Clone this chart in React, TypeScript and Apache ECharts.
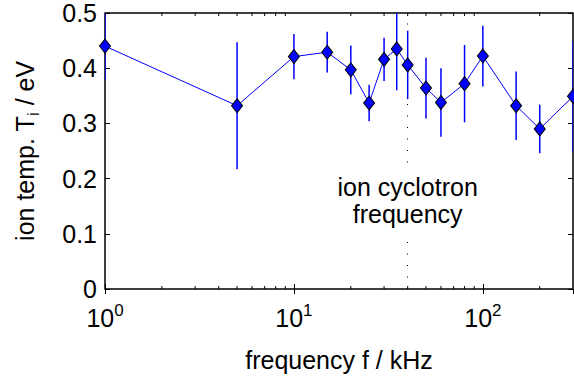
import React, { useEffect, useRef } from "react";
import * as echarts from "echarts";

const freq = [1, 5, 10, 15, 20, 25, 30, 35, 40, 50, 60, 80, 100, 150, 200, 300];
const temp = [0.44, 0.332, 0.421, 0.429, 0.397, 0.337, 0.416, 0.435, 0.406, 0.364, 0.338, 0.372, 0.422, 0.332, 0.29, 0.349];
const err = [0.062, 0.115, 0.041, 0.037, 0.044, 0.033, 0.039, 0.075, 0.062, 0.055, 0.062, 0.07, 0.055, 0.062, 0.044, 0.1];
const minorTickValues = [2, 3, 4, 5, 6, 7, 8, 9, 20, 30, 40, 50, 60, 70, 80, 90, 200];
const yTicks = ["0", "0.1", "0.2", "0.3", "0.4", "0.5"];
const cyclotronFreq = 40;
const annotationY = 0.16;
const annotationText = "ion cyclotron\nfrequency";

const FONT = "Liberation Sans, Arial, Helvetica, sans-serif";
const BLUE = "#0000ff";

export default function App() {
  const ref = useRef<HTMLDivElement>(null);
  useEffect(() => {
    if (!ref.current) return;
    const chart = echarts.init(ref.current, undefined, { renderer: "svg" });
    const lineData = freq.map((f, i) => [f, temp[i]]);
    const errData = freq.map((f, i) => [f, temp[i] - err[i], temp[i] + err[i]]);
    const minorData = minorTickValues.map((v) => [v, 0]);

    const xLabelFmt = (v: number) => {
      const e = Math.log10(v);
      if (Math.abs(e - Math.round(e)) > 1e-6) return "";
      return "{b|10}{s|" + Math.round(e) + "}";
    };

    const option: any = {
      animation: false,
      grid: {
        left: 101,
        right: 1,
        top: 13,
        bottom: 92,
        show: true,
        borderColor: "#000",
        borderWidth: 1.5,
        backgroundColor: "transparent",
      },
      xAxis: [
        {
          type: "log",
          logBase: 10,
          min: 1,
          max: 300,
          position: "bottom",
          axisLine: { show: false },
          splitLine: { show: false },
          axisTick: { show: true, inside: true, length: 5, lineStyle: { color: "#000", width: 1 } },
          axisLabel: {
            margin: 13,
            formatter: xLabelFmt,
            showMaxLabel: false,
            color: "#000",
            fontFamily: FONT,
            fontSize: 25,
            rich: {
              b: { fontSize: 25, fontFamily: FONT, color: "#000", lineHeight: 32 },
              s: { fontSize: 17, fontFamily: FONT, color: "#000", lineHeight: 16, verticalAlign: "top" },
            },
          },
          name: "frequency f / kHz",
          nameLocation: "middle",
          nameGap: 58,
          nameTextStyle: { fontSize: 25, fontFamily: FONT, color: "#000" },
        },
        {
          type: "log",
          logBase: 10,
          min: 1,
          max: 300,
          position: "top",
          axisLine: { show: false },
          splitLine: { show: false },
          axisTick: { show: true, inside: true, length: 5, lineStyle: { color: "#000", width: 1 } },
          axisLabel: { show: false },
        },
      ],
      yAxis: [
        {
          type: "value",
          min: 0,
          max: 0.5,
          interval: 0.1,
          position: "left",
          axisLine: { show: false },
          splitLine: { show: false },
          axisTick: { show: true, inside: true, length: 5, lineStyle: { color: "#000", width: 1 } },
          axisLabel: {
            margin: 8,
            color: "#000",
            fontFamily: FONT,
            fontSize: 25,
            formatter: (v: number) => yTicks[Math.round(v * 10)] ?? "",
          },
          name: "ion temp. T{sub|i} / eV",
          nameLocation: "middle",
          nameRotate: 90,
          nameGap: 63,
          nameTextStyle: {
            fontSize: 25,
            fontFamily: FONT,
            color: "#000",
            lineHeight: 34,
            rich: {
              sub: { fontSize: 17, fontFamily: FONT, color: "#000", lineHeight: 17, verticalAlign: "bottom" },
            },
          },
        },
        {
          type: "value",
          min: 0,
          max: 0.5,
          interval: 0.1,
          position: "right",
          axisLine: { show: false },
          splitLine: { show: false },
          axisTick: { show: true, inside: true, length: 5, lineStyle: { color: "#000", width: 1 } },
          axisLabel: { show: false },
        },
      ],
      series: [
        {
          type: "custom",
          name: "minorTicks",
          xAxisIndex: 0,
          yAxisIndex: 0,
          data: minorData,
          silent: true,
          z: 1,
          renderItem: (params: any, api: any) => {
            const x = api.coord([api.value(0), 0])[0];
            const cs = params.coordSys;
            const yb = cs.y + cs.height;
            return {
              type: "group",
              children: [
                { type: "line", shape: { x1: x, y1: yb, x2: x, y2: yb - 3 }, style: { stroke: "#000", lineWidth: 1 } },
                { type: "line", shape: { x1: x, y1: cs.y, x2: x, y2: cs.y + 3 }, style: { stroke: "#000", lineWidth: 1 } },
              ],
            };
          },
        },
        {
          type: "custom",
          name: "errorBars",
          xAxisIndex: 0,
          yAxisIndex: 0,
          data: errData,
          clip: true,
          silent: true,
          z: 3,
          encode: { x: 0, y: [1, 2] },
          renderItem: (params: any, api: any) => {
            const p1 = api.coord([api.value(0), api.value(1)]);
            const p2 = api.coord([api.value(0), api.value(2)]);
            return {
              type: "line",
              shape: { x1: p1[0], y1: p1[1], x2: p2[0], y2: p2[1] },
              style: { stroke: BLUE, lineWidth: 1.5 },
            };
          },
        },
        {
          type: "custom",
          name: "annotation",
          xAxisIndex: 0,
          yAxisIndex: 0,
          data: [[cyclotronFreq, annotationY]],
          silent: true,
          z: 4,
          renderItem: (params: any, api: any) => {
            const p = api.coord([api.value(0), api.value(1)]);
            return {
              type: "text",
              x: p[0],
              y: p[1],
              style: {
                text: annotationText,
                fill: "#000",
                font: "25px " + FONT,
                align: "center",
                verticalAlign: "middle",
                lineHeight: 27,
                backgroundColor: "#fff",
                padding: [7, 4, 7, 4],
              },
            };
          },
        },
        {
          type: "line",
          name: "temp",
          xAxisIndex: 0,
          yAxisIndex: 0,
          data: lineData,
          z: 5,
          symbol: "diamond",
          symbolSize: [11, 14],
          lineStyle: { color: BLUE, width: 1 },
          itemStyle: { color: BLUE, borderColor: "#000", borderWidth: 1 },
          markLine: {
            silent: true,
            symbol: "none",
            z: 2,
            label: { show: false },
            lineStyle: { type: [1, 10.5], color: "#000", width: 1 },
            data: [{ xAxis: cyclotronFreq }],
          },
        },
      ],
    };
    chart.setOption(option);
    return () => chart.dispose();
  }, []);
  return (
    <div
      ref={ref}
      style={{ position: "fixed", left: 0, top: 0, width: 574, height: 381, background: "#fff" }}
    />
  );
}
